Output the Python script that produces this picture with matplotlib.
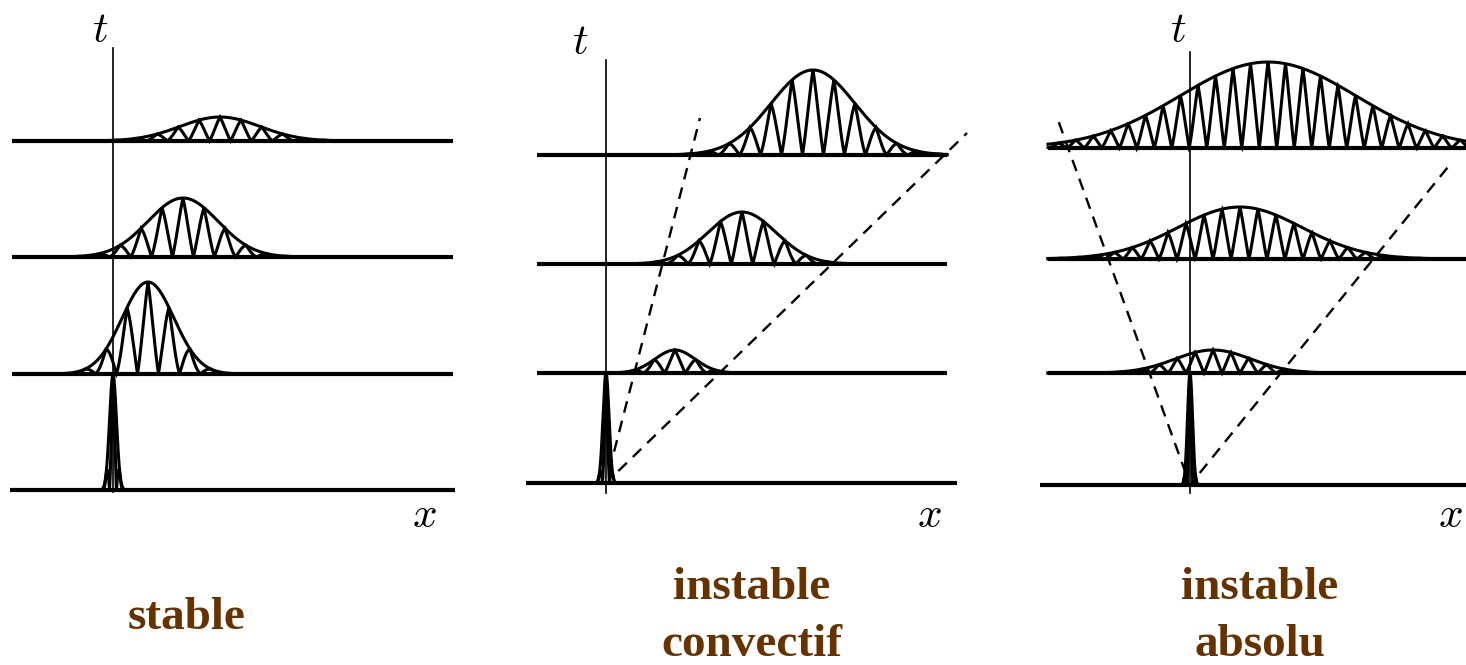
import numpy as np
import matplotlib
matplotlib.use("Agg")
import matplotlib.pyplot as plt

# ========================================================================
# 데이터 (픽셀 단위, 각 패널의 원점 기준)
# ========================================================================
panel_names = [["stable"], ["instable", "convectif"], ["instable", "absolu"]]

# 각 시간 t0..t3 의 기준선 높이 (그림 y 픽셀)
baselines_stable = [490, 374, 257, 141]
baselines_convectif = [483, 373, 264, 155]
baselines_absolu = [485, 373, 259, 148]

# 파속 중심 (원점으로부터 x 거리), 진폭, 폭(sigma), 파장
center_stable = [0, 35, 70, 107]
amp_stable = [115, 92, 59, 24]
sigma_stable = [3.5, 26, 35, 40]
wl_stable = [7, 21, 21, 21]

center_convectif = [0, 69, 136, 207]
amp_convectif = [110, 23, 52, 85]
sigma_convectif = [3.0, 20, 34, 42]
wl_convectif = [7, 21, 21.5, 21]

center_absolu = [0, 23, 50, 78]
amp_absolu = [112, 23, 52, 86]
sigma_absolu = [2.5, 38, 62, 88]
wl_absolu = [6, 18, 18, 17.5]

# 점선 (앞/뒤 전선) 끝점: 원점 기준 (dx, y)
front_convectif = [(94, 118), (361, 133)]
front_absolu = [(-132, 120), (262, 162)]

BROWN = "#663300"


def draw_packets(ax, x0, baselines, centers, amps, sigmas, wls, ext, ext0):
    """기준선과 파속(포락선 + 진동)을 그립니다."""
    for i, yb in enumerate(baselines):
        xl, xr = ext0 if i == 0 else ext
        ax.plot([xl, xr], [yb, yb], color="black", lw=3.0,
                solid_capstyle="butt", zorder=3)
        c = x0 + centers[i]
        half = 4.5 * sigmas[i]
        xs = np.linspace(max(c - half, xl), min(c + half, xr), 4000)
        env = amps[i] * np.exp(-0.5 * ((xs - c) / sigmas[i]) ** 2)
        # 삼각파 형태의 진동 (꼭짓점은 포락선, 바닥은 기준선)
        phase = np.abs(np.sin(np.pi * (xs - c) / wls[i]))
        tri = 1 - 2 / np.pi * np.arcsin(phase)
        osc = env * (0.8 * tri + 0.2 * (1 - phase ** 2))
        ax.plot(xs, yb - env, color="black", lw=2.2, zorder=4)
        ax.plot(xs, yb - osc, color="black", lw=2.2, zorder=4,
                solid_joinstyle="miter")


def draw_fronts(ax, x0, yb, fronts):
    """원점에서 나가는 점선을 그립니다."""
    for dx, ytop in fronts:
        frac = 12.0 / (yb - ytop)
        xs = [x0 + dx * frac, x0 + dx]
        ys = [yb - (yb - ytop) * frac, ytop]
        ax.plot(xs, ys, color="black", lw=1.7, ls=(0, (5, 3.5)), zorder=2)


plt.rcParams["mathtext.fontset"] = "cm"
fig = plt.figure(figsize=(14.66, 6.65), dpi=100)
ax = fig.add_axes([0, 0, 1, 1])
ax.set_xlim(0, 1466)
ax.set_ylim(665, 0)
ax.axis("off")

# 패널 1 : stable
ax.plot([113, 113], [48, 492], color="black", lw=1.2, zorder=3)
draw_packets(ax, 113, baselines_stable, center_stable, amp_stable,
             sigma_stable, wl_stable, (12, 453), (10, 455))
ax.text(100, 30, r"$t$", fontsize=31, ha="center", va="center")
ax.text(424, 515, r"$x$", fontsize=31, ha="center", va="center")

# 패널 2 : instable convectif
ax.plot([606, 606], [60, 493], color="black", lw=1.2, zorder=3)
draw_packets(ax, 606, baselines_convectif, center_convectif, amp_convectif,
             sigma_convectif, wl_convectif, (537, 947), (526, 957))
draw_fronts(ax, 606, baselines_convectif[0], front_convectif)
ax.text(580, 42, r"$t$", fontsize=31, ha="center", va="center")
ax.text(929, 515, r"$x$", fontsize=31, ha="center", va="center")

# 패널 3 : instable absolu
ax.plot([1190, 1190], [52, 493], color="black", lw=1.2, zorder=3)
draw_packets(ax, 1190, baselines_absolu, center_absolu, amp_absolu,
             sigma_absolu, wl_absolu, (1048, 1466), (1040, 1466))
draw_fronts(ax, 1190, baselines_absolu[0], front_absolu)
ax.text(1178, 30, r"$t$", fontsize=31, ha="center", va="center")
ax.text(1450, 515, r"$x$", fontsize=31, ha="center", va="center")

# 하단 라벨
label_pos = [(187, [618]), (752, [588, 645]), (1260, [588, 645])]
for names, (cx, ys) in zip(panel_names, label_pos):
    for name, yy in zip(names, ys):
        ax.text(cx, yy, name, fontsize=34, fontweight="bold",
                family="Liberation Serif", color=BROWN,
                ha="center", va="center")

fig.savefig("out.png", dpi=100)
plt.close(fig)
